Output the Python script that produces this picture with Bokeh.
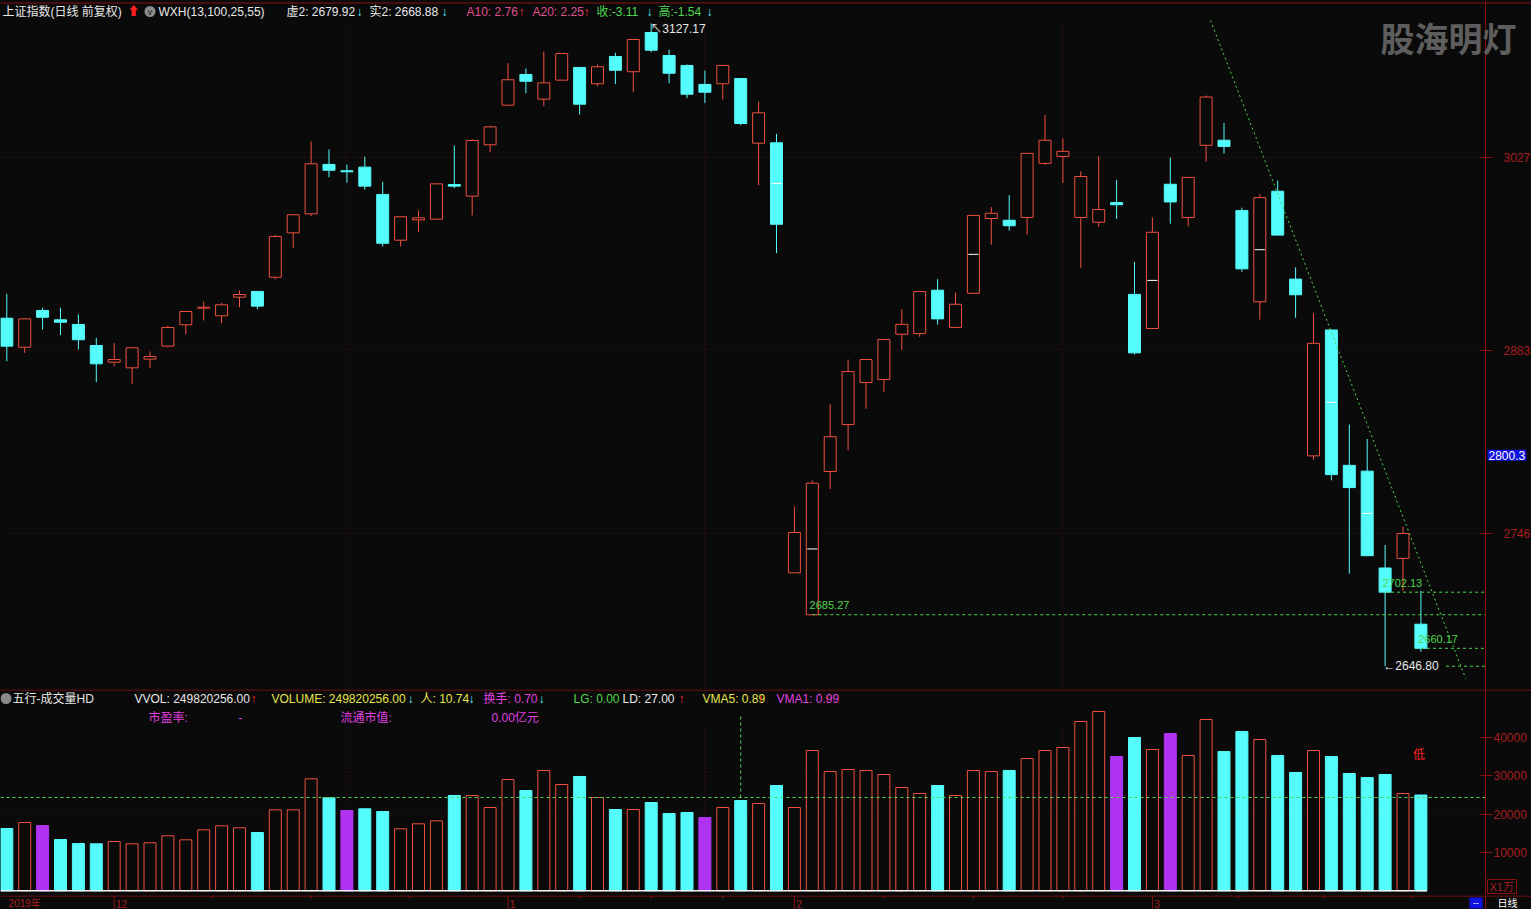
import numpy as np
from bokeh.plotting import figure
from bokeh.layouts import column
from bokeh.models import Range1d, LinearAxis, FixedTicker, Label
from bokeh.core.properties import value
from bokeh.embed import file_html
from bokeh.resources import INLINE

# ---------------- data ----------------
month_idx = [0, 6, 28, 44, 64]
month_labels = ["2019年", "12", "1", "2", "3"]
week_tick_idx = [11.5, 17.0, 22.5, 32.0, 36.0, 40.0, 49.0, 54.0, 59.0, 68.8, 73.6, 78.5]

opens = [2906.9, 2885.2, 2912.7, 2905.7, 2902.2, 2886.5, 2874.0, 2869.8, 2876.3, 2886.0,
         2902.0, 2914.4, 2908.7, 2922.6, 2926.9, 2937.5, 2970.7, 2984.9, 3021.8, 3017.1,
         3019.8, 2999.3, 2965.2, 2980.4, 2980.9, 3006.8, 2998.1, 3036.5, 3066.1, 3089.0,
         3070.6, 3084.8, 3094.3, 3082.1, 3102.5, 3091.1, 3120.4, 3103.2, 3095.8, 3081.6,
         3082.1, 3086.0, 3037.7, 3038.0, 2716.6, 2685.27, 2792.3, 2827.4, 2858.8, 2861.1,
         2894.9, 2895.4, 2927.8, 2900.0, 2925.5, 2981.4, 2980.1, 2982.2, 3022.6, 3027.8,
         2982.2, 2978.6, 2993.3, 2924.7, 2899.2, 3007.0, 2982.1, 3036.1, 3039.9, 2987.3,
         2919.2, 3001.8, 2936.1, 2804.0, 2898.1, 2796.9, 2792.6, 2720.2, 2727.4, 2678.2]
highs = [2925.1, 2906.4, 2914.7, 2914.7, 2909.7, 2892.2, 2888.2, 2884.8, 2882.0, 2901.4,
         2911.9, 2919.4, 2918.4, 2927.6, 2926.9, 2969.2, 2984.2, 3039.0, 3033.0, 3021.8,
         3027.7, 3008.8, 2982.7, 2987.4, 3007.3, 3036.0, 3040.5, 3050.7, 3097.5, 3093.5,
         3106.2, 3104.7, 3094.3, 3096.5, 3105.3, 3115.2, 3127.17, 3107.5, 3096.5, 3092.0,
         3095.8, 3086.0, 3068.9, 3044.7, 2766.3, 2785.6, 2842.6, 2876.0, 2876.0, 2891.0,
         2913.7, 2926.8, 2936.1, 2926.0, 2983.7, 2989.9, 2998.9, 3030.1, 3058.7, 3041.4,
         3016.7, 3028.0, 3010.3, 2949.0, 2982.2, 3027.0, 3012.1, 3073.3, 3052.7, 2989.5,
         2999.6, 3009.8, 2944.9, 2910.6, 2898.1, 2827.4, 2816.6, 2737.4, 2751.1, 2703.1]
lows = [2874.8, 2881.0, 2898.4, 2894.2, 2883.5, 2859.1, 2871.0, 2857.9, 2869.5, 2885.2,
        2895.2, 2905.2, 2903.2, 2915.1, 2913.6, 2936.0, 2959.2, 2983.1, 3012.3, 3008.3,
        3002.9, 2960.5, 2960.5, 2971.2, 2980.9, 3004.1, 2983.7, 3031.0, 3066.1, 3075.1,
        3065.3, 3084.8, 3059.1, 3080.3, 3081.8, 3075.8, 3105.7, 3082.5, 3071.3, 3067.6,
        3070.3, 3051.1, 3006.3, 2955.5, 2716.6, 2685.27, 2779.2, 2808.3, 2839.2, 2851.8,
        2883.3, 2893.0, 2902.1, 2900.0, 2925.5, 2961.8, 2972.4, 2969.3, 3021.3, 3007.9,
        2944.6, 2975.2, 2981.1, 2879.7, 2899.2, 2977.5, 2975.5, 3023.9, 3029.9, 2941.5,
        2905.8, 2969.0, 2907.2, 2801.1, 2785.7, 2715.9, 2729.4, 2646.80, 2703.1, 2657.6]
closes = [2886.0, 2906.4, 2907.6, 2903.9, 2890.8, 2872.8, 2876.0, 2884.8, 2878.3, 2899.9,
          2911.9, 2915.1, 2916.9, 2924.6, 2915.9, 2968.0, 2984.2, 3022.3, 3017.5, 3016.3,
          3005.6, 2962.9, 2982.7, 2981.9, 3007.3, 3005.6, 3039.7, 3049.9, 3085.1, 3084.0,
          3082.8, 3104.7, 3066.8, 3094.8, 3092.2, 3115.2, 3107.2, 3090.0, 3074.3, 3075.8,
          3095.8, 3052.4, 3060.4, 2977.1, 2746.7, 2783.6, 2818.3, 2867.0, 2876.0, 2891.0,
          2902.3, 2926.8, 2906.4, 2917.3, 2983.7, 2985.3, 2976.0, 3030.1, 3039.9, 3031.6,
          3012.8, 2988.1, 2991.7, 2881.0, 2971.1, 2993.8, 3012.1, 3072.2, 3035.3, 2943.8,
          2997.0, 2969.0, 2924.4, 2888.1, 2790.0, 2780.3, 2729.4, 2702.13, 2746.0, 2660.17]
# volume in units of 10^4 lots (X1万)
volumes = [16250, 17820, 17040, 13380, 12340, 12260, 12860, 12260, 12520, 14350,
           13300, 15910, 16960, 16440, 15210, 21130, 21130, 29220, 24260, 20950,
           21390, 20690, 16180, 17480, 18260, 24860, 24860, 21730, 29040, 26170,
           31390, 27730, 29820, 24340, 21210, 21210, 23040, 20170, 20430, 19120,
           21730, 23560, 22780, 27470, 21730, 36600, 31120, 31650, 31390, 30340,
           26950, 25390, 27470, 24860, 31390, 31120, 31390, 34520, 36600, 37390,
           44170, 46780, 35040, 40000, 36860, 41040, 35300, 44690, 36340, 41560,
           39470, 35300, 30860, 36600, 35040, 30600, 29560, 30340, 25390, 24982]
special_vol_idx = [2, 19, 39, 62, 65]          # purple volume bars
mid_mark_idx = [43, 45, 54, 64, 70, 74, 76]     # white mid-body markers

price_ticks = [2746, 2883, 3027]
vol_ticks = [10000, 20000, 30000, 40000]
vol_grid = [20000, 30000]
vgrid_idx = [19, 39, 59]
last_price_tag = "2800.3"
last_price_val = 2800.3
hi_idx, hi_val = 36, 3127.17
lo_idx, lo_val = 77, 2646.80
level_idx = [45, 77, 79]
level_val = [2685.27, 2702.13, 2660.17]
trend_x = [67.25, 81.5]
trend_y = [3129.4, 2637.6]
vol_ref_level = 24340
vol_cursor_idx = 41
vol_cursor_top = 45735
low_flag_idx, low_flag_vol = 79, 35800

# ---------------- style / layout ----------------
BG = "#0a0a0a"
RED = "#f0503f"
CYAN = "#54fcfc"
PURPLE = "#b033f2"
AX_RED = "#8a1010"
LBL_RED = "#a81e1e"
GRID_RED = "#5a1212"
GREEN = "#4fd84f"
WHITE = "#e8e8e8"
YELLOW = "#e6e64a"
MAGENTA = "#e040e0"
PINK = "#e0508a"
FONT = "Liberation Sans, Noto Sans CJK SC"

W = 1531
FW = 1485                      # x of the right-hand axis line
PX_PER_BAR = 17.9
X0 = -0.352
X1 = X0 + FW / PX_PER_BAR       # axis position (data units)
XE = X0 + W / PX_PER_BAR        # right edge of the page
PH = 689
PY_SCALE = 1.338
P_TOP = 3027 + 157 / PY_SCALE
P_BOT = P_TOP - PH / PY_SCALE
VH = 206
V_SCALE = 0.003833
V_TOP = (890.3 - PH) / V_SCALE
V_BOT = V_TOP - VH / V_SCALE
SH = 909 - PH - VH

def xpx(px):
    return X0 + px / PX_PER_BAR

def ppx(py):
    return P_TOP - py / PY_SCALE

def vpx(py):
    return V_TOP - (py - PH) / V_SCALE

n = len(opens)
idx = np.arange(n)
O = np.array(opens); H = np.array(highs); L = np.array(lows); C = np.array(closes)
up = C >= O
BW = 0.67

def base_fig(height, y_range):
    return figure(width=W, height=height, x_range=Range1d(X0, XE), y_range=y_range,
                  x_axis_type=None, y_axis_type=None, output_backend="svg",
                  toolbar_location=None, min_border_left=0, min_border_right=0,
                  min_border_top=0, min_border_bottom=0,
                  background_fill_color=BG, border_fill_color=BG, outline_line_color=None)

def right_axis(ticks, standoff):
    return LinearAxis(ticker=FixedTicker(ticks=ticks), fixed_location=X1,
                      axis_line_color=AX_RED, major_tick_line_color=AX_RED,
                      major_tick_in=5, major_tick_out=7, minor_tick_line_color=None,
                      major_label_text_color=LBL_RED, major_label_text_font=FONT,
                      major_label_text_font_size="12px", major_label_standoff=standoff)

def texts(fig, items, y, size="12px", font=FONT):
    for xp, t, col in items:
        fig.text(x=[xpx(xp)], y=[y], text=[t], text_color=col, text_font=value(font),
                 text_font_size=size, text_align="left", text_baseline="middle")

# ---------------- price panel ----------------
p = base_fig(PH, Range1d(P_BOT, P_TOP))
p.add_layout(right_axis(price_ticks, 11), "right")
k = len(price_ticks)
p.segment([X0] * k, price_ticks, [X1] * k, price_ticks, color=GRID_RED, line_dash="1 3")
k = len(vgrid_idx)
p.segment(vgrid_idx, [ppx(20)] * k, vgrid_idx, [P_BOT] * k, color=GRID_RED, line_dash="1 3")
p.segment([X0], [ppx(2.5)], [XE], [ppx(2.5)], color=AX_RED, line_width=1)

ui, di = idx[up], idx[~up]
# up candles: hollow red
p.segment(ui, np.maximum(O, C)[up], ui, H[up], color=RED, line_width=1)
p.segment(ui, L[up], ui, np.minimum(O, C)[up], color=RED, line_width=1)
p.vbar(x=ui, width=BW, bottom=O[up], top=C[up], fill_color=BG, line_color=RED, line_width=1)
# down candles: solid cyan
p.segment(di, L[~up], di, H[~up], color=CYAN, line_width=1)
p.vbar(x=di, width=BW, bottom=C[~up], top=O[~up], fill_color=CYAN, line_color=CYAN, line_width=1)
# mid-body markers
mm = np.array(mid_mark_idx)
p.segment(mm - BW / 2 + 0.05, (O[mm] + C[mm]) / 2, mm + BW / 2 - 0.05, (O[mm] + C[mm]) / 2,
          color="#ffffff", line_width=1)

# support levels (green dashed)
p.segment(level_idx, level_val, [X1] * 3, level_val, color=GREEN, line_width=1, line_dash="3 3")
p.segment([lo_idx + 3.4], [lo_val], [X1], [lo_val], color=GREEN, line_width=1, line_dash="3 3")
p.text(x=[i - 0.15 for i in level_idx], y=[v + 4 for v in level_val],
       text=["%.2f" % v for v in level_val], text_color=GREEN, text_font=value(FONT),
       text_font_size="11px", text_align="left", text_baseline="bottom")
p.text(x=[lo_idx - 0.1], y=[lo_val], text=["←2646.80"], text_color=WHITE,
       text_font=value(FONT), text_font_size="12px", text_align="left", text_baseline="middle")
p.text(x=[hi_idx - 0.05], y=[hi_val - 4], text=["↖3127.17"], text_color=WHITE,
       text_font=value(FONT), text_font_size="12px", text_align="left", text_baseline="middle")
# trend line
p.line(trend_x, trend_y, color=GREEN, line_width=1, line_dash="2 3")

# header line
hy = ppx(11)
texts(p, [
    (2, "上证指数(日线 前复权)", WHITE), (127, "⬆", "#ff2020"),
    (158, "WXH(13,100,25,55)", WHITE),
    (286, "虚2: 2679.92", WHITE), (356, "↓", CYAN),
    (369, "实2: 2668.88", WHITE), (441, "↓", CYAN),
    (466, "A10: 2.76", PINK), (518, "↑", "#ff3030"),
    (532, "A20: 2.25", PINK), (583, "↑", "#ff3030"),
    (596, "收:-3.11", GREEN), (646, "↓", CYAN),
    (658, "高:-1.54", GREEN), (706, "↓", CYAN),
], hy)
p.scatter(x=[xpx(149.5)], y=[hy], size=11, marker="circle", fill_color="#8a8a8a", line_color=None)
p.text(x=[xpx(149.5)], y=[hy], text=["v"], text_color="#202020", text_font=value(FONT),
       text_font_size="9px", text_align="center", text_baseline="middle")

# watermark
p.add_layout(Label(x=xpx(1380), y=ppx(37), text="股海明灯", text_color="#5e5e5e",
                   text_font="Noto Sans CJK SC", text_font_size="34px",
                   text_font_style="bold", text_baseline="middle", text_align="left"))
# last price tag
p.add_layout(Label(x=xpx(1487), y=last_price_val, text=last_price_tag, text_color="#ffffff",
                   text_font=FONT, text_font_size="12px", text_baseline="bottom",
                   text_align="left", background_fill_color="#1010e0", padding=1))

# ---------------- volume panel ----------------
v = base_fig(VH, Range1d(V_BOT, V_TOP))
v.add_layout(right_axis(vol_ticks, 1), "right")
k = len(vol_grid)
v.segment([X0] * k, vol_grid, [X1] * k, vol_grid, color=GRID_RED, line_dash="1 3")
k = len(vgrid_idx)
v.segment(vgrid_idx, [vpx(727)] * k, vgrid_idx, [V_BOT] * k, color=GRID_RED, line_dash="1 3")
v.segment([X0], [vpx(689.5)], [XE], [vpx(689.5)], color=AX_RED, line_width=1)
VOL = np.array(volumes, dtype=float)
kind = np.where(up, "up", "dn").astype(object)
for kk in special_vol_idx:
    kind[kk] = "sp"
mu = kind == "up"; md = kind == "dn"; ms = kind == "sp"
v.vbar(x=idx[mu], width=BW, bottom=0, top=VOL[mu], fill_color=BG, line_color=RED, line_width=1)
v.vbar(x=idx[md], width=BW, bottom=0, top=VOL[md], fill_color=CYAN, line_color=CYAN, line_width=1)
v.vbar(x=idx[ms], width=BW, bottom=0, top=VOL[ms], fill_color=PURPLE, line_color=PURPLE, line_width=1)
v.segment([X0], [0], [n - 1 + BW / 2], [0], color="#f4f4f4", line_width=1.5)
v.segment([X0], [vol_ref_level], [X1], [vol_ref_level], color=GREEN, line_dash="3 3", line_width=1)
v.segment([vol_cursor_idx], [vol_ref_level], [vol_cursor_idx], [vol_cursor_top], color=GREEN,
          line_dash="3 3", line_width=1)
v.text(x=[low_flag_idx - 0.1], y=[low_flag_vol], text=["低"], text_color="#ff2020",
       text_font=value("Noto Sans CJK SC"), text_font_size="12px", text_align="center",
       text_baseline="middle")

vh1 = vpx(698)
texts(v, [
    (12, "五行-成交量HD", WHITE),
    (134, "VVOL: 249820256.00", WHITE), (250, "↑", "#ff3030"),
    (271, "VOLUME: 249820256.00", YELLOW), (407, "↓", CYAN),
    (420, "人: 10.74", YELLOW), (468, "↓", CYAN),
    (483, "换手: 0.70", MAGENTA), (538, "↓", CYAN),
    (573, "LG: 0.00", GREEN), (622, "LD: 27.00", WHITE), (678, "↑", "#ff3030"),
    (702, "VMA5: 0.89", YELLOW), (757, "↑", "#ff3030"),
    (776, "VMA1: 0.99", MAGENTA), (823, "↑", "#ff3030"),
], vh1)
v.scatter(x=[xpx(5.5)], y=[vh1], size=11, marker="circle", fill_color="#8a8a8a", line_color=None)
texts(v, [(148, "市盈率:", MAGENTA), (238, "-", MAGENTA), (340, "流通市值:", MAGENTA),
          (491, "0.00亿元", MAGENTA)], vpx(717))
v.quad(left=[xpx(1487)], right=[xpx(1516)], bottom=[vpx(893)], top=[vpx(879)],
       fill_color=None, line_color=AX_RED, line_width=1)
texts(v, [(1489, "X1万", LBL_RED)], vpx(886.5), size="11px")

# ---------------- date strip ----------------
s = base_fig(SH, Range1d(0, SH))
s.segment([X0], [SH - 0.5], [XE], [SH - 0.5], color=AX_RED, line_width=1)
m = len(month_idx)
s.text(x=[i + 0.1 for i in month_idx], y=[6.0] * m, text=month_labels, text_color=LBL_RED,
       text_font=value(FONT), text_font_size="10px", text_align="left", text_baseline="middle")
s.segment(x0=month_idx[1:], y0=[SH] * (m - 1), x1=month_idx[1:], y1=[0] * (m - 1),
          color=AX_RED, line_width=1)
s.segment(x0=week_tick_idx, y0=[SH] * len(week_tick_idx), x1=week_tick_idx,
          y1=[SH - 3] * len(week_tick_idx), color=AX_RED, line_width=1)
s.segment([X1], [0], [X1], [SH], color=AX_RED, line_width=1)
s.quad(left=[xpx(1469)], right=[xpx(1482)], bottom=[1], top=[SH - 2], fill_color="#1010e0",
       line_color=None)
s.text(x=[xpx(1475.5)], y=[6.5], text=["--"], text_color="#ffffff", text_font=value(FONT),
       text_font_size="9px", text_align="center", text_baseline="middle")
s.text(x=[xpx(1497)], y=[6.0], text=["日线"], text_color="#ffffff",
       text_font=value(FONT), text_font_size="10px", text_align="left",
       text_baseline="middle")

layout = column(p, v, s, spacing=0)
html = file_html(layout, INLINE, title="上证指数")
html = html.replace("<head>", "<head><style>html,body{margin:0;padding:0;background:#0a0a0a;overflow:hidden}</style>", 1)
open("out.html", "w").write(html)
